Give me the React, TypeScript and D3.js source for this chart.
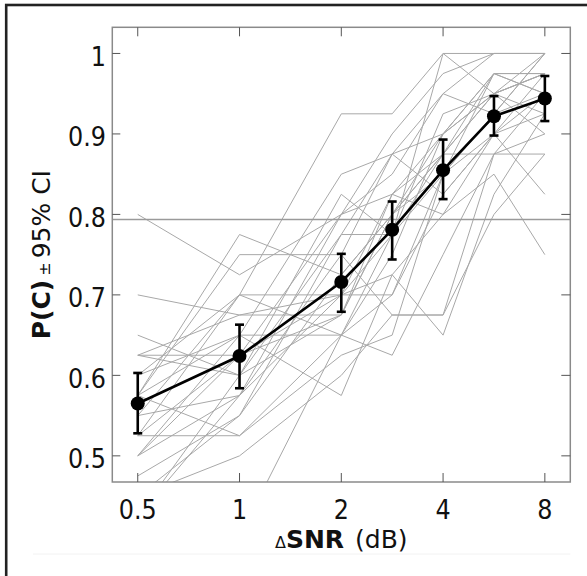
import React from "react";
import * as d3 from "d3";

const xLevels = [0.5, 1, 2, 2.828, 4, 5.657, 8];
const xTicks = [0.5, 1, 2, 4, 8];
const yTicks = [0.5, 0.6, 0.7, 0.8, 0.9, 1];
const threshold = 0.7937;

const meanPC = [0.565, 0.624, 0.716, 0.781, 0.855, 0.922, 0.944];
const ciLow = [0.528, 0.584, 0.679, 0.744, 0.819, 0.898, 0.916];
const ciHigh = [0.603, 0.663, 0.751, 0.816, 0.893, 0.947, 0.972];

const subjects: number[][] = [
  [0.8, 0.725, 0.8, 0.825, 0.9, 0.95, 1.0],
  [0.7, 0.675, 0.675, 0.8, 0.875, 0.95, 0.975],
  [0.625, 0.625, 0.7, 0.775, 0.85, 0.925, 0.95],
  [0.525, 0.525, 0.65, 0.7, 0.825, 0.9, 0.925],
  [0.55, 0.7, 0.925, 0.925, 1.0, 1.0, 1.0],
  [0.575, 0.775, 0.725, 0.8, 0.85, 0.9, 0.975],
  [0.45, 0.5, 0.6, 0.675, 0.675, 0.8, 0.875],
  [0.5, 0.575, 0.7, 0.825, 0.8, 0.85, 0.75],
  [0.575, 0.65, 0.65, 0.75, 0.9, 0.975, 0.95],
  [0.6, 0.7, 0.7, 0.7, 0.85, 0.925, 1.0],
  [0.425, 0.6, 0.775, 0.875, 0.9, 0.975, 0.975],
  [0.625, 0.6, 0.825, 0.775, 0.925, 0.95, 0.9],
  [0.55, 0.575, 0.8, 0.85, 0.95, 1.0, 1.0],
  [0.45, 0.55, 0.775, 0.775, 0.875, 0.875, 0.875],
  [0.575, 0.75, 0.75, 0.875, 0.825, 0.9, 0.825],
  [0.525, 0.625, 0.675, 0.825, 0.875, 0.975, 0.975],
  [0.4, 0.4, 0.65, 0.625, 0.75, 0.875, 0.95],
  [0.6, 0.65, 0.575, 0.725, 0.8, 0.9, 0.95],
  [0.625, 0.675, 0.7, 0.725, 0.65, 0.825, 0.925],
  [0.5, 0.65, 0.85, 0.875, 0.95, 0.925, 1.0],
  [0.65, 0.6, 0.675, 0.8, 0.875, 0.95, 0.975],
  [0.575, 0.525, 0.625, 0.65, 0.85, 0.975, 0.95],
  [0.525, 0.7, 0.65, 0.775, 1.0, 0.95, 0.925],
  [0.475, 0.55, 0.725, 0.8, 0.9, 0.95, 0.975],
  [0.425, 0.575, 0.75, 0.675, 0.675, 0.875, 0.9],
  [0.5, 0.625, 0.8, 0.9, 0.975, 1.0, 1.0],
];

const W = 587;
const H = 576;
const L = 112.3, R = 570.3, T = 27.3, B = 482;
const TICKFONT = "'DejaVu Sans Condensed', 'DejaVu Sans', sans-serif";
const TITLEFONT = "'DejaVu Sans', sans-serif";

export default function App() {
  const x = d3.scaleLog().base(2).domain([Math.pow(2, -1.25), Math.pow(2, 3.25)]).range([L, R]);
  const y = d3.scaleLinear().domain([0.4675, 1.0325]).range([B, T]);
  const line = d3
    .line<number>()
    .x((_, i) => x(xLevels[i]))
    .y((d) => y(d));

  return (
    <svg
      width={W}
      height={H}
      style={{ position: "absolute", left: 0, top: 0, background: "#fff" }}
    >
      <rect x={0} y={0} width={W} height={H} fill="#fff" />
      <rect x={6.2} y={5} width={W + 20} height={H + 20} fill="none" stroke="#222" strokeWidth={2.6} />
      <line x1={33} x2={R} y1={554} y2={554} stroke="#f2f2f2" strokeWidth={1} />
      <defs>
        <clipPath id="plotclip">
          <rect x={L} y={T} width={R - L} height={B - T} />
        </clipPath>
      </defs>
      <g clipPath="url(#plotclip)">
        {subjects.map((s, i) => (
          <path key={i} d={line(s) || ""} fill="none" stroke="#a8a8a8" strokeWidth={1} />
        ))}
        <line x1={L} x2={R} y1={y(threshold)} y2={y(threshold)} stroke="#9a9a9a" strokeWidth={1.5} />
      </g>
      <rect x={L} y={T} width={R - L} height={B - T} fill="none" stroke="#8a8a8a" strokeWidth={1.5} />
      {xTicks.map((t) => (
        <g key={"xt" + t}>
          <line x1={x(t)} x2={x(t)} y1={B} y2={B - 9} stroke="#555" strokeWidth={1} />
          <line x1={x(t)} x2={x(t)} y1={T} y2={T + 9} stroke="#555" strokeWidth={1} />
          <text x={x(t)} y={518.5} textAnchor="middle" fontSize={26.5} fill="#111" fontFamily={TICKFONT}>
            {String(t)}
          </text>
        </g>
      ))}
      {yTicks.map((t) => (
        <g key={"yt" + t}>
          <line x1={L} x2={L + 8} y1={y(t)} y2={y(t)} stroke="#555" strokeWidth={1} />
          <line x1={R} x2={R - 9} y1={y(t)} y2={y(t)} stroke="#555" strokeWidth={1} />
          <text x={106} y={y(t) + 12.5} textAnchor="end" fontSize={26.5} fill="#111" fontFamily={TICKFONT}>
            {String(t)}
          </text>
        </g>
      ))}
      <path d={line(meanPC) || ""} fill="none" stroke="#000" strokeWidth={2.6} />
      {meanPC.map((m, i) => {
        const cx = x(xLevels[i]);
        return (
          <g key={"m" + i}>
            <line x1={cx} x2={cx} y1={y(ciLow[i])} y2={y(ciHigh[i])} stroke="#000" strokeWidth={2.6} />
            <line x1={cx - 4.5} x2={cx + 4.5} y1={y(ciLow[i])} y2={y(ciLow[i])} stroke="#000" strokeWidth={2.6} />
            <line x1={cx - 4.5} x2={cx + 4.5} y1={y(ciHigh[i])} y2={y(ciHigh[i])} stroke="#000" strokeWidth={2.6} />
            <circle cx={cx} cy={y(m)} r={7} fill="#000" />
          </g>
        );
      })}
      <text x={(L + R) / 2} y={548} textAnchor="middle" fill="#111" fontFamily={TITLEFONT}>
        <tspan fontSize={16}>Δ</tspan>
        <tspan fontSize={25} fontWeight="bold">SNR</tspan>
        <tspan fontSize={25} dx={11}>(dB)</tspan>
      </text>
      <text
        transform={`translate(50, ${(T + B) / 2}) rotate(-90)`}
        textAnchor="middle"
        fill="#111"
        fontFamily={TITLEFONT}
      >
        <tspan fontSize={25} fontWeight="bold">P(C)</tspan>
        <tspan fontSize={16} dx={4}>±</tspan>
        <tspan fontSize={25} dx={4}>95% CI</tspan>
      </text>
    </svg>
  );
}
